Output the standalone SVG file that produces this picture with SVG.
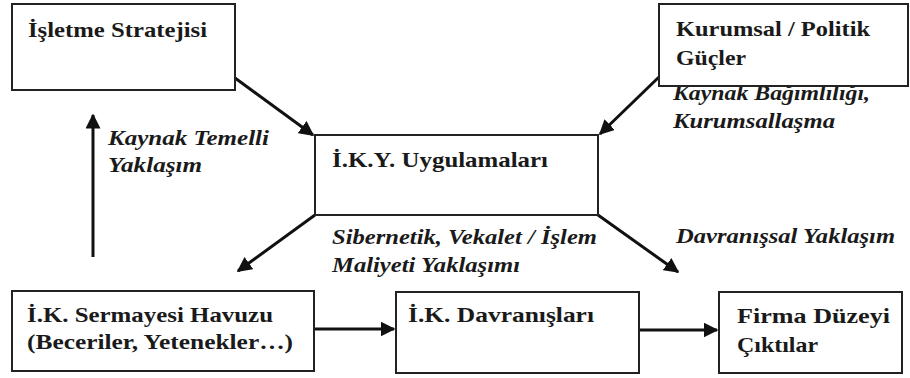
<svg xmlns="http://www.w3.org/2000/svg" width="910" height="378" viewBox="0 0 910 378">
  <defs>
    <marker id="arrow" viewBox="0 0 10 10" refX="9" refY="5" markerWidth="5" markerHeight="5" markerUnits="strokeWidth" orient="auto">
      <path d="M0,0 L10,5 L0,10 z" fill="#111"/>
    </marker>
    <style>
      .box { fill: #fff; stroke: #222; stroke-width: 2; }
      .title { font-family: 'Liberation Serif', 'Times New Roman', serif; font-weight: bold; font-size: 21px; fill: #1a1a1a; }
      .label { font-family: 'Liberation Serif', 'Times New Roman', serif; font-weight: bold; font-style: italic; font-size: 21px; fill: #1a1a1a; }
      .conn { stroke: #111; stroke-width: 3; fill: none; marker-end: url(#arrow); }
    </style>
  </defs>
  <rect width="910" height="378" fill="#fff"/>

  <!-- connectors -->
  <g id="connectors">
    <line class="conn" x1="235" y1="78" x2="313" y2="135"/>
    <line class="conn" x1="659" y1="77" x2="600" y2="134"/>
    <line class="conn" x1="315" y1="215" x2="238" y2="271"/>
    <line class="conn" x1="598" y1="215" x2="678" y2="272"/>
    <line class="conn" x1="93" y1="257" x2="93" y2="115"/>
    <line class="conn" x1="314" y1="329" x2="394" y2="329"/>
    <line class="conn" x1="639" y1="330" x2="717" y2="330"/>
  </g>

  <!-- connector labels -->
  <g id="labels">
    <text class="label" x="108" y="145" textLength="161" lengthAdjust="spacingAndGlyphs">Kaynak Temelli</text>
    <text class="label" x="108" y="172" textLength="94" lengthAdjust="spacingAndGlyphs">Yaklaşım</text>
    <text class="label" x="673" y="100" textLength="197" lengthAdjust="spacingAndGlyphs">Kaynak Bağımlılığı,</text>
    <text class="label" x="673" y="128" textLength="162" lengthAdjust="spacingAndGlyphs">Kurumsallaşma</text>
    <text class="label" x="332" y="244" textLength="265" lengthAdjust="spacingAndGlyphs">Sibernetik, Vekalet / İşlem</text>
    <text class="label" x="332" y="272" textLength="188" lengthAdjust="spacingAndGlyphs">Maliyeti Yaklaşımı</text>
    <text class="label" x="676" y="243" textLength="219" lengthAdjust="spacingAndGlyphs">Davranışsal Yaklaşım</text>
  </g>

  <g id="isletme-stratejisi">
    <rect class="box" x="12" y="4" width="223" height="86"/>
    <text class="title" x="28" y="37" textLength="179" lengthAdjust="spacingAndGlyphs">İşletme Stratejisi</text>
  </g>

  <g id="kurumsal-politik">
    <rect class="box" x="659" y="4" width="249" height="82"/>
    <text class="title" x="676" y="36" textLength="194" lengthAdjust="spacingAndGlyphs">Kurumsal / Politik</text>
    <text class="title" x="676" y="65" textLength="70" lengthAdjust="spacingAndGlyphs">Güçler</text>
  </g>

  <g id="iky-uygulamalari">
    <rect class="box" x="315" y="135" width="283" height="80"/>
    <text class="title" x="332" y="167" textLength="216" lengthAdjust="spacingAndGlyphs">İ.K.Y. Uygulamaları</text>
  </g>

  <g id="ik-sermayesi">
    <rect class="box" x="12" y="291" width="302" height="80"/>
    <text class="title" x="27" y="322" textLength="246" lengthAdjust="spacingAndGlyphs">İ.K. Sermayesi Havuzu</text>
    <text class="title" x="27" y="349" textLength="266" lengthAdjust="spacingAndGlyphs">(Beceriler, Yetenekler…)</text>
  </g>

  <g id="ik-davranislari">
    <rect class="box" x="396" y="292" width="243" height="81"/>
    <text class="title" x="408" y="322" textLength="186" lengthAdjust="spacingAndGlyphs">İ.K. Davranışları</text>
  </g>

  <g id="firma-duzeyi">
    <rect class="box" x="719" y="292" width="183" height="81"/>
    <text class="title" x="737" y="323" textLength="153" lengthAdjust="spacingAndGlyphs">Firma Düzeyi</text>
    <text class="title" x="737" y="352" textLength="81" lengthAdjust="spacingAndGlyphs">Çıktılar</text>
  </g>
</svg>
